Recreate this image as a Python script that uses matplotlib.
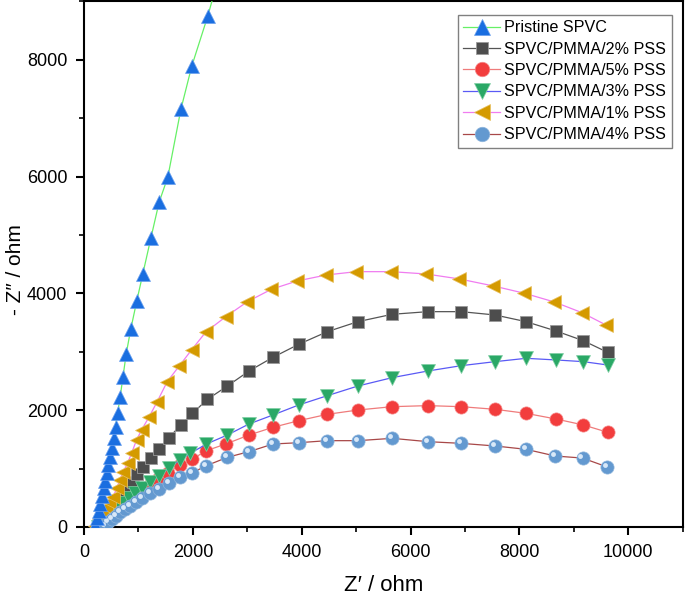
import matplotlib as mpl
mpl.use('Agg')
import matplotlib.pyplot as plt
import matplotlib.transforms as mtransforms
from matplotlib.ticker import MultipleLocator

plt.rcParams['font.family'] = ['Liberation Sans', 'DejaVu Sans']

# Pristine SPVC
x_pris = [210, 240, 270, 300, 330, 360, 390, 420, 450, 480, 510, 545, 580, 620, 665, 715,
          775, 860, 970, 1080, 1230, 1380, 1540, 1780, 1980, 2275, 2560]
y_pris = [30, 150, 280, 400, 530, 660, 790, 920, 1060, 1200, 1350, 1520, 1720, 1960, 2230, 2560,
          2960, 3390, 3870, 4330, 4950, 5560, 5990, 7150, 7890, 8750, 9700]

# SPVC/PMMA/2% PSS
x_2 = [300, 380, 460, 530, 600, 660, 740, 813, 893, 978, 1088, 1229, 1376, 1560, 1780, 1993,
       2268, 2635, 3033, 3474, 3945, 4470, 5033, 5663, 6318, 6930, 7554, 8121, 8673, 9174, 9620]
y_2 = [20, 100, 190, 280, 340, 406, 548, 663, 776, 908, 1033, 1176, 1330, 1529, 1747, 1946,
       2186, 2414, 2671, 2906, 3128, 3344, 3516, 3642, 3687, 3687, 3630, 3516, 3356, 3190, 2991]

# SPVC/PMMA/5% PSS
x_5 = [280, 370, 460, 550, 640, 735, 840, 950, 1070, 1211, 1364, 1547, 1761, 1993, 2250, 2606,
       3033, 3474, 3945, 4470, 5033, 5663, 6318, 6930, 7554, 8121, 8673, 9174, 9620]
y_5 = [5, 70, 140, 215, 295, 375, 455, 540, 625, 719, 817, 930, 1062, 1164, 1307, 1421,
       1575, 1707, 1820, 1929, 2003, 2060, 2078, 2060, 2015, 1946, 1849, 1747, 1622]

# SPVC/PMMA/3% PSS
x_3 = [262, 354, 446, 538, 630, 722, 832, 936, 1058, 1211, 1376, 1560, 1761, 1957, 2250, 2635,
       3033, 3474, 3945, 4470, 5033, 5663, 6318, 6930, 7554, 8121, 8673, 9174, 9620]
y_3 = [5, 74, 149, 234, 320, 406, 491, 577, 663, 776, 873, 1005, 1147, 1262, 1421, 1575,
       1764, 1918, 2089, 2248, 2414, 2557, 2671, 2762, 2831, 2888, 2860, 2831, 2774]

# SPVC/PMMA/1% PSS
x_1 = [210, 280, 340, 400, 460, 538, 600, 660, 722, 800, 874, 966, 1058, 1199, 1345, 1529, 1750,
       1976, 2239, 2606, 3003, 3443, 3914, 4452, 5004, 5646, 6288, 6899, 7523, 8092, 8642, 9150, 9590]
y_1 = [20, 130, 240, 340, 430, 519, 663, 805, 947, 1090, 1262, 1490, 1661, 1889, 2146, 2488, 2757,
       3031, 3339, 3601, 3858, 4070, 4212, 4315, 4372, 4372, 4332, 4247, 4127, 4002, 3853, 3670, 3459]

# SPVC/PMMA/4% PSS
x_4 = [385, 446, 519, 587, 660, 752, 844, 954, 1070, 1211, 1376, 1565, 1773, 1993, 2250, 2635,
       3033, 3474, 3945, 4466, 5033, 5663, 6318, 6930, 7554, 8121, 8660, 9160, 9615]
y_4 = [22, 80, 137, 194, 251, 308, 365, 433, 491, 577, 645, 748, 851, 930, 1050, 1193,
       1290, 1421, 1443, 1478, 1478, 1518, 1461, 1432, 1387, 1330, 1215, 1180, 1027]

fig = plt.figure(figsize=(6.85, 6.0), dpi=100)
ax = fig.add_axes([0.1226, 0.1217, 0.874, 0.876])

lw = 0.9
ax.plot(x_2, y_2, color='#555555', lw=lw, marker='s', ms=8.5, mfc='#4d4d4d', mec='#9a9a9a',
        mew=0.6, label='SPVC/PMMA/2% PSS', zorder=3)
ax.plot(x_5, y_5, color='#ef7b7b', lw=lw, marker='o', ms=9.5, mfc='#f23d3d', mec='#f58a8a',
        mew=0.5, label='SPVC/PMMA/5% PSS', zorder=4)
ax.plot(x_3, y_3, color='#5a5af5', lw=lw, marker='v', ms=10.5, mfc='#2aa866', mec='#7fd0a4',
        mew=0.5, label='SPVC/PMMA/3% PSS', zorder=5)
ax.plot(x_1, y_1, color='#f07cf0', lw=lw, marker='<', ms=10.5, mfc='#d49a00', mec='#e8c060',
        mew=0.5, label='SPVC/PMMA/1% PSS', zorder=6)
ax.plot(x_4, y_4, color='#a84848', lw=lw, marker='o', ms=9.5, mfc='#6399d0', mec='#8fb5dc',
        mew=0.5, label='SPVC/PMMA/4% PSS', zorder=7)
# highlight on spheres
shift = mtransforms.offset_copy(ax.transData, fig=fig, x=-1.5, y=1.5, units='points')
ax.plot(x_4, y_4, ls='none', marker='o', ms=3.5, mfc='#d8e8f8', mec='none',
        transform=shift, zorder=7.5)
ax.plot(x_pris, y_pris, color='#66f066', lw=lw, marker='^', ms=10.5, mfc='#1a6ee0', mec='#6aa0ee',
        mew=0.5, label='Pristine SPVC', zorder=8)

ax.set_xlim(0, 11000)
ax.set_ylim(0, 9000)
ax.xaxis.set_major_locator(MultipleLocator(2000))
ax.xaxis.set_minor_locator(MultipleLocator(1000))
ax.yaxis.set_major_locator(MultipleLocator(2000))
ax.yaxis.set_minor_locator(MultipleLocator(1000))
ax.tick_params(which='major', direction='out', length=6, width=1.5, labelsize=13, pad=6,
               top=False, right=False)
ax.tick_params(which='minor', direction='out', length=3.5, width=1.2, top=False, right=False)
for s in ax.spines.values():
    s.set_linewidth(1.5)

ax.set_xlabel('Z\u2032 / ohm', fontsize=16, labelpad=10)
ax.set_ylabel('- Z\u2033 / ohm', fontsize=15)
ax.yaxis.set_label_coords(-0.098, 0.49)

h, l = ax.get_legend_handles_labels()
order = [5, 0, 1, 2, 3, 4]
leg = ax.legend([h[i] for i in order], [l[i] for i in order], loc='upper right',
                bbox_to_anchor=(0.982, 0.975), fontsize=11.6, frameon=True, fancybox=False,
                edgecolor='#808080', framealpha=1, handlelength=2.3, labelspacing=0.4,
                borderpad=0.35, handletextpad=0.25, borderaxespad=0, markerscale=1.1)
leg.get_frame().set_linewidth(1.0)

fig.savefig('out.png', dpi=100)
